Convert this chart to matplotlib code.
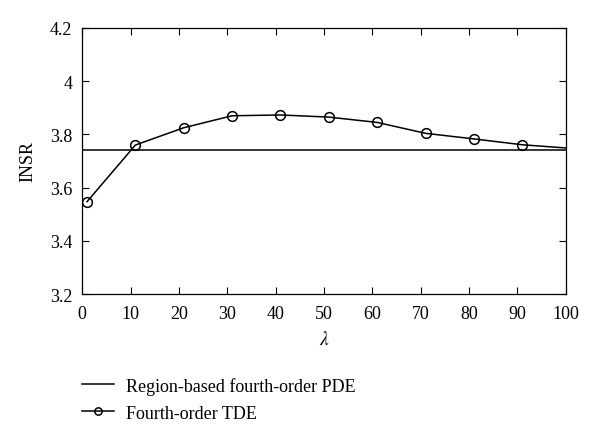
import matplotlib.pyplot as plt

plt.rcParams['font.family'] = ['Liberation Serif', 'DejaVu Serif']
plt.rcParams['mathtext.fontset'] = 'stix'

# lambda values and INSR readings
lam = [1, 11, 21, 31, 41, 51, 61, 71, 81, 91, 100]
insr_tde = [3.547, 3.760, 3.825, 3.870, 3.873, 3.865, 3.845, 3.804, 3.783, 3.761, 3.749]
insr_pde = 3.740

fig = plt.figure(figsize=(6, 4.39), dpi=100)
ax = fig.add_axes((0.137, 0.328, 0.806, 0.606))

ax.plot([0, 100], [insr_pde, insr_pde], color='k', lw=1.1,
        label='Region-based fourth-order PDE')
ax.plot(lam, insr_tde, color='k', lw=1.1, marker='o', ms=7,
        mfc='none', mec='k', mew=1.1, markevery=slice(0, 10),
        label='Fourth-order TDE')

ax.set_xlim(0, 100)
ax.set_ylim(3.2, 4.2)
ax.set_xticks(range(0, 101, 10))
ax.set_yticks([3.2, 3.4, 3.6, 3.8, 4.0, 4.2])
ax.set_yticklabels(['3.2', '3.4', '3.6', '3.8', '4', '4.2'])
ax.tick_params(direction='in', top=True, right=True, length=5,
               labelsize=13, width=0.8)
ax.tick_params(axis='x', pad=8)
ax.tick_params(axis='y', pad=7)
for s in ax.spines.values():
    s.set_linewidth(0.9)

ax.set_xlabel(r'$\lambda$', fontsize=14, labelpad=6)
ax.set_ylabel('INSR', fontsize=13, labelpad=10)

leg = fig.legend(loc='upper left', bbox_to_anchor=(0.122, 0.16),
                 frameon=False, fontsize=13, handlelength=1.75,
                 labelspacing=0.55, borderpad=0, handletextpad=0.7,
                 markerscale=0.75)

plt.savefig('out.png', dpi=100)
